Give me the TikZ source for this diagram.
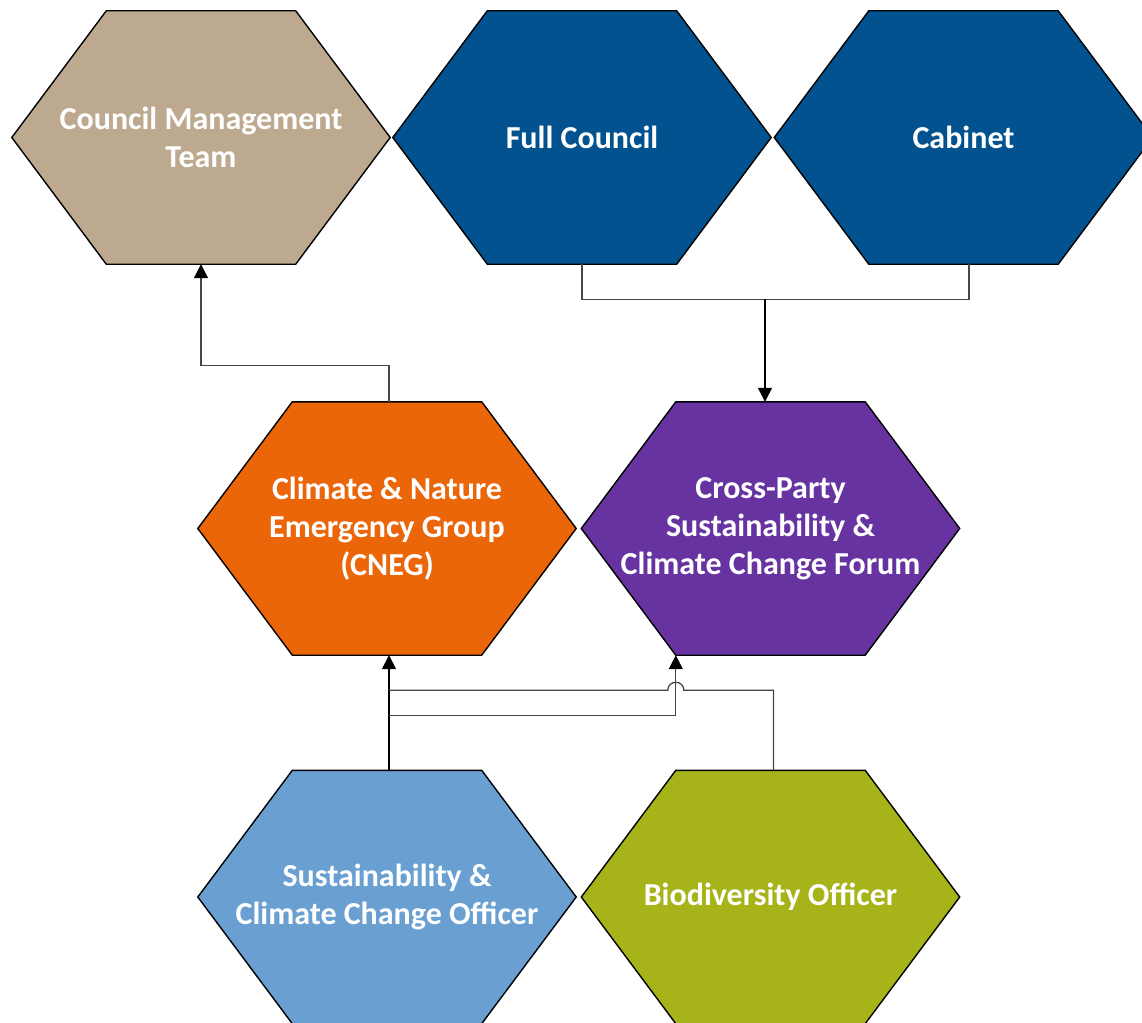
\documentclass[tikz,border=0pt]{standalone}
\usepackage{fontspec}
\setmainfont{Carlito}
\usetikzlibrary{arrows.meta,backgrounds,calc}
\definecolor{cTan}{HTML}{BDA98F}
\definecolor{cBlue}{HTML}{02528F}
\definecolor{cOrange}{HTML}{EB6608}
\definecolor{cPurple}{HTML}{6633A0}
\definecolor{cLight}{HTML}{6A9FD2}
\definecolor{cOlive}{HTML}{A6B319}
\tikzset{
  hexnode/.style={rectangle, minimum width=378pt, minimum height=253pt, inner sep=0pt,
    align=center, text=white, font=\bfseries\fontsize{32}{38}\selectfont},
  hexline/.style={draw=black, line width=1.4pt, line join=miter},
  conn/.style={draw=black!72, line width=1.3pt},
  arr/.style={conn, -{Triangle[width=14pt,length=14pt,color=black]}}
}
\newcommand\drawhex[2]{%
  \filldraw[fill=#2, hexline] (#1.west) -- ([xshift=94.5pt]#1.north west) -- ([xshift=-94.5pt]#1.north east)
    -- (#1.east) -- ([xshift=-94.5pt]#1.south east) -- ([xshift=94.5pt]#1.south west) -- cycle;}
\begin{document}
\begin{tikzpicture}[x=1pt,y=-1pt]
\useasboundingbox (0,0) rectangle (1142,1022);
\node[hexnode] (cmt)  at (201,137.5)   {Council Management\\Team};
\node[hexnode] (fc)   at (582,137.5)   {Full Council};
\node[hexnode] (cab)  at (963.5,137.5) {Cabinet};
\node[hexnode] (cneg) at (387,528.5)   {Climate \& Nature\\Emergency Group\\(CNEG)};
\node[hexnode] (cp)   at (770.5,528.5) {Cross-Party\\Sustainability \&\\Climate Change Forum};
\node[hexnode] (sust) at (387,897)     {Sustainability \&\\Climate Change Officer};
\node[hexnode] (bio)  at (770.5,897)   {Biodiversity Officer};
\begin{pgfonlayer}{background}
  \drawhex{cmt}{cTan}
  \drawhex{fc}{cBlue}
  \drawhex{cab}{cBlue}
  \drawhex{cneg}{cOrange}
  \drawhex{cp}{cPurple}
  \drawhex{sust}{cLight}
  \drawhex{bio}{cOlive}
\end{pgfonlayer}
% CNEG -> CMT
\coordinate (cnegout) at ([xshift=2pt]cneg.north);
\draw[arr] (cnegout) -- ++(0,-36) -| (cmt.south);
% Full Council + Cabinet -> Cross-Party
\coordinate (cabout) at ([xshift=5.5pt]cab.south);
\draw[conn] (fc.south) -- ++(0,35) coordinate (fcj) -| (cabout);
\coordinate (cpin) at ([xshift=-5.5pt]cp.north);
\draw[arr, draw=black] (fcj -| cpin) -- (cpin);
% Sustainability officer -> CNEG and Cross-Party
\coordinate (strunk) at ([xshift=2pt]sust.north);
\coordinate (cnegin) at ([xshift=2pt]cneg.south);
\draw[arr, draw=black, line width=1.7pt] (strunk) -- (cnegin);
\coordinate (cpin2) at ([xshift=94.5pt]cp.south west);
\draw[arr] (strunk) ++(0,-55) -| (cpin2);
% Biodiversity officer -> CNEG (with hop over)
\coordinate (bout) at ([xshift=3pt]bio.north);
\draw[conn] (bout) -- ++(0,-80) coordinate (bj) -- ($(bj -| cpin2)+(8,0)$)
  .. controls +(0,-10.7) and +(0,-10.7) .. ($(bj -| cpin2)+(-8,0)$) -- (bj -| strunk);
\end{tikzpicture}
\end{document}
